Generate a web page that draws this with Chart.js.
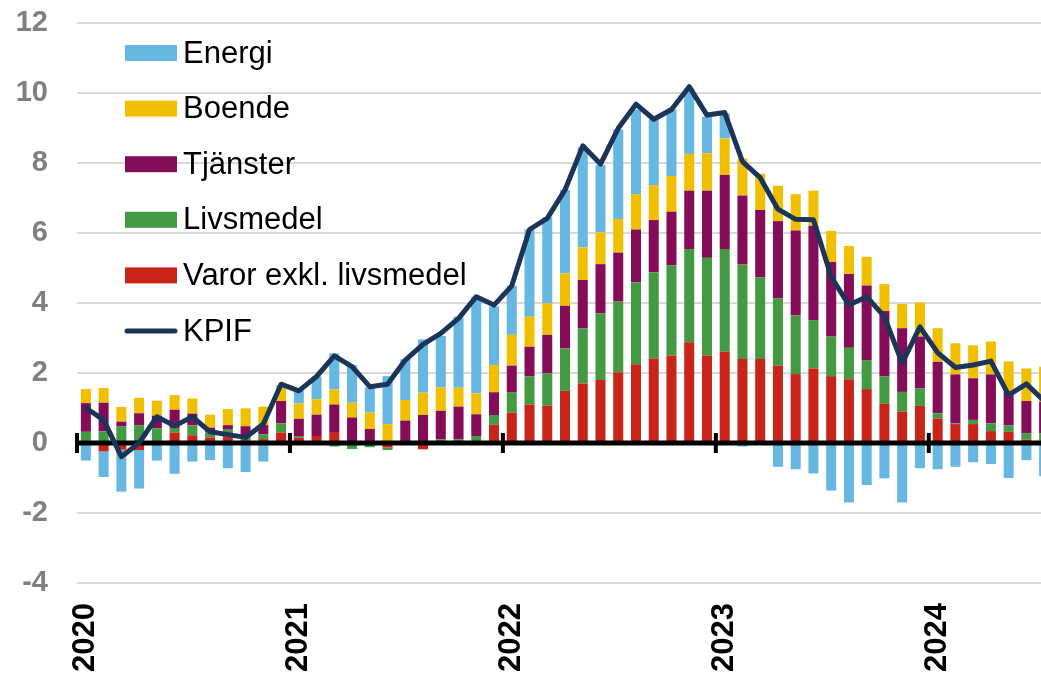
<!DOCTYPE html>
<html>
<head>
<meta charset="utf-8">
<script src="https://cdn.jsdelivr.net/npm/chart.js@4.4.1/dist/chart.umd.min.js"></script>
<style>
  html, body { margin: 0; padding: 0; background: #fff; overflow: hidden; }
  #wrap { width: 1062px; height: 677px; position: relative; }
</style>
</head>
<body>
<div id="wrap"><canvas id="kpif"></canvas></div>
<script>
// months Jan 2020 - Jul 2024 (picture is cut off at the right edge)
const months = [
  '2020-01','2020-02','2020-03','2020-04','2020-05','2020-06','2020-07','2020-08','2020-09','2020-10','2020-11','2020-12',
  '2021-01','2021-02','2021-03','2021-04','2021-05','2021-06','2021-07','2021-08','2021-09','2021-10','2021-11','2021-12',
  '2022-01','2022-02','2022-03','2022-04','2022-05','2022-06','2022-07','2022-08','2022-09','2022-10','2022-11','2022-12',
  '2023-01','2023-02','2023-03','2023-04','2023-05','2023-06','2023-07','2023-08','2023-09','2023-10','2023-11','2023-12',
  '2024-01','2024-02','2024-03','2024-04','2024-05','2024-06','2024-07'
];

// contributions, percentage points
const varor = [
  -0.05,-0.24,-0.19,-0.20, 0.00, 0.30, 0.22, 0.16, 0.17, 0.08, 0.11, 0.30,
   0.15, 0.20, 0.29, 0.04, 0.03,-0.13, 0.04,-0.18, 0.02, 0.02, 0.04, 0.52,
   0.87, 1.10, 1.07, 1.49, 1.70, 1.80, 2.02, 2.25, 2.42, 2.50, 2.88, 2.50,
   2.61, 2.40, 2.40, 2.21, 1.97, 2.13, 1.91, 1.82, 1.54, 1.12, 0.90, 1.06,
   0.70, 0.54, 0.54, 0.34, 0.32, 0.10, 0.03
];
const livsmedel = [
   0.32, 0.33, 0.47, 0.51, 0.42, 0.13, 0.28, 0.14, 0.21, 0.12, 0.14, 0.26,
   0.05, 0.00,-0.10,-0.17,-0.12,-0.07, 0.00, 0.05, 0.08, 0.08, 0.16, 0.28,
   0.57, 0.81, 0.92, 1.21, 1.58, 1.90, 2.02, 2.34, 2.46, 2.58, 2.66, 2.79,
   2.93, 2.70, 2.33, 1.92, 1.67, 1.38, 1.13, 0.90, 0.83, 0.78, 0.56, 0.50,
   0.15, 0.02, 0.12, 0.22, 0.18, 0.18, 0.25
];
const tjanster = [
   0.82, 0.82, 0.14, 0.34, 0.36, 0.52, 0.34, 0.14, 0.13, 0.28, 0.26, 0.64,
   0.49, 0.61, 0.81, 0.69, 0.37, 0.04, 0.60, 0.75, 0.82, 0.94, 0.62, 0.65,
   0.77, 0.84, 1.10, 1.22, 1.38, 1.41, 1.40, 1.51, 1.49, 1.53, 1.67, 1.92,
   2.12, 1.97, 1.93, 2.21, 2.43, 2.70, 2.13, 2.11, 2.13, 1.87, 1.82, 1.48,
   1.47, 1.40, 1.19, 1.40, 0.97, 0.92, 0.90
];
const boende = [
   0.40, 0.42, 0.42, 0.44, 0.43, 0.42, 0.43, 0.37, 0.46, 0.51, 0.53, 0.41,
   0.44, 0.44, 0.43, 0.42, 0.47, 0.50, 0.59, 0.64, 0.67, 0.54, 0.60, 0.78,
   0.88, 0.86, 0.90, 0.93, 0.93, 0.91, 0.96, 1.01, 1.00, 1.02, 1.05, 1.07,
   1.04, 1.06, 1.03, 1.01, 1.04, 1.00, 0.89, 0.80, 0.82, 0.77, 0.69, 0.97,
   0.96, 0.89, 0.94, 0.94, 0.86, 0.93, 1.00
];
const energi = [
  -0.45,-0.73,-1.20,-1.10,-0.50,-0.88,-0.53,-0.49,-0.72,-0.83,-0.53, 0.05,
   0.38, 0.65, 1.03, 1.08, 0.72, 1.37, 1.16, 1.52, 1.47, 2.03, 2.76, 1.67,
   1.40, 2.49, 2.46, 2.38, 2.86, 1.92, 2.56, 2.42, 1.88, 1.90, 1.87, 1.04,
   0.72,-0.10, 0.00,-0.68,-0.75,-0.87,-1.36,-1.70,-1.20,-1.01,-1.70,-0.72,
  -0.75,-0.68,-0.55,-0.60,-1.00,-0.49,-0.95
];
// KPIF, annual percentage change
const kpif = [
   1.00, 0.66,-0.39, 0.00, 0.75, 0.49, 0.75, 0.32, 0.24, 0.16, 0.54, 1.68,
   1.49, 1.90, 2.49, 2.18, 1.61, 1.68, 2.37, 2.82, 3.13, 3.56, 4.18, 3.94,
   4.49, 6.10, 6.42, 7.23, 8.49, 7.97, 8.99, 9.68, 9.25, 9.53,10.18, 9.37,
   9.44, 8.04, 7.58, 6.68, 6.39, 6.38, 4.75, 3.94, 4.18, 3.61, 2.28, 3.32,
   2.58, 2.16, 2.23, 2.34, 1.37, 1.69, 1.20
];

const FONT = '"Liberation Sans", Arial, sans-serif';

// zero line with year tick marks, drawn between the bars and the KPIF line
const zeroAxis = {
  id: 'zeroAxis',
  beforeDatasetDraw(chart, args) {
    if (args.meta.type !== 'line') return;
    const {ctx, chartArea, scales} = chart;
    const y0 = scales.y.getPixelForValue(0);
    const step = scales.x.getPixelForValue(1) - scales.x.getPixelForValue(0);
    ctx.save();
    ctx.strokeStyle = '#000';
    ctx.lineWidth = 5;
    ctx.beginPath();
    ctx.moveTo(chartArea.left - 2, y0);
    ctx.lineTo(chartArea.right, y0);
    ctx.stroke();
    ctx.lineWidth = 4;
    months.forEach((m, i) => {
      if (!m.endsWith('-01')) return;
      const x = scales.x.getPixelForValue(i) - step / 2;
      ctx.beginPath();
      ctx.moveTo(x, y0 - 10);
      ctx.lineTo(x, y0 + 10);
      ctx.stroke();
    });
    ctx.restore();
  }
};

// legend placed inside the plot, top left
const insideLegend = {
  id: 'insideLegend',
  afterDraw(chart) {
    const {ctx, chartArea} = chart;
    const rows = [4, 3, 2, 1, 0, 5];
    ctx.save();
    ctx.font = '31px ' + FONT;
    ctx.textBaseline = 'middle';
    rows.forEach((idx, r) => {
      const ds = chart.data.datasets[idx];
      const x = chartArea.left + 48;
      const y = chartArea.top + 30 + r * 55.6;
      if (ds.type === 'line') {
        ctx.strokeStyle = ds.borderColor;
        ctx.lineWidth = 5;
        ctx.lineCap = 'round';
        ctx.beginPath();
        ctx.moveTo(x + 2, y);
        ctx.lineTo(x + 50, y);
        ctx.stroke();
      } else {
        ctx.fillStyle = ds.backgroundColor;
        ctx.fillRect(x, y - 8, 52, 16);
      }
      ctx.fillStyle = '#000';
      ctx.fillText(ds.label, x + 58, y + 1);
    });
    ctx.restore();
  }
};

const barOpts = { type: 'bar', stack: 'k', categoryPercentage: 1, barPercentage: 0.565, borderWidth: 0, order: 1 };

new Chart(document.getElementById('kpif'), {
  data: {
    labels: months,
    datasets: [
      { ...barOpts, label: 'Varor exkl. livsmedel', data: varor, backgroundColor: '#c82417' },
      { ...barOpts, label: 'Livsmedel', data: livsmedel, backgroundColor: '#449a43' },
      { ...barOpts, label: 'Tjänster', data: tjanster, backgroundColor: '#850c58' },
      { ...barOpts, label: 'Boende', data: boende, backgroundColor: '#f0c000' },
      { ...barOpts, label: 'Energi', data: energi, backgroundColor: '#66b7e1' },
      {
        type: 'line', label: 'KPIF', data: kpif, stack: 'line', order: 0,
        borderColor: '#1b3457', borderWidth: 5, borderJoinStyle: 'round', borderCapStyle: 'round',
        pointRadius: 0, tension: 0, fill: false
      }
    ]
  },
  options: {
    responsive: true,
    maintainAspectRatio: false,
    animation: false,
    layout: { padding: { top: 23, right: 9, left: 0, bottom: 0 } },
    plugins: { legend: { display: false }, tooltip: { enabled: false } },
    scales: {
      x: {
        stacked: true,
        offset: true,
        grid: { display: false, drawTicks: true, tickLength: 20 },
        border: { display: false },
        ticks: {
          autoSkip: false, minRotation: 90, maxRotation: 90, padding: 0,
          color: '#000', font: { family: FONT, size: 31, weight: 'bold' },
          callback: (v, i) => months[i].endsWith('-01') ? months[i].slice(0, 4) : null
        },
        afterFit: s => { s.height = 94; }
      },
      y: {
        stacked: true,
        min: -4, max: 12,
        grid: { color: '#d9d9d9', lineWidth: 2, drawTicks: true, tickLength: 29, tickColor: 'rgba(0,0,0,0)' },
        border: { display: false },
        ticks: {
          stepSize: 2, padding: 0,
          color: '#808080', font: { family: FONT, size: 29, weight: 'bold' }
        },
        afterFit: s => { s.width = 77; }
      }
    }
  },
  plugins: [zeroAxis, insideLegend]
});
</script>
</body>
</html>
